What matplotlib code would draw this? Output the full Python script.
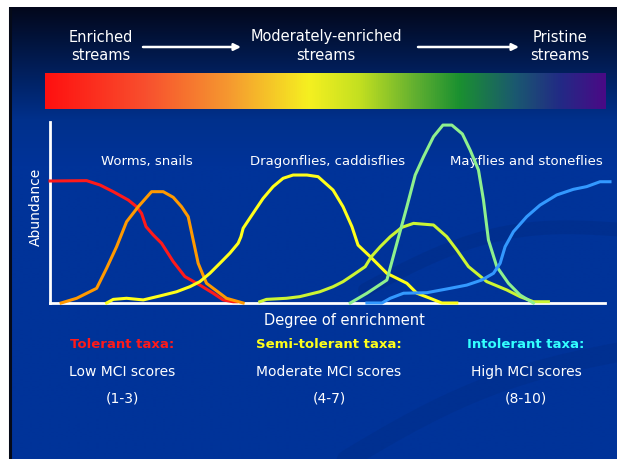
import numpy as np
import matplotlib
matplotlib.use("Agg")
import matplotlib.pyplot as plt
from matplotlib.colors import LinearSegmentedColormap

plt.rcParams['font.family'] = ['DejaVu Sans']

# ---- data: degree of enrichment (0-100) vs abundance (0-100) ----
red_x = [0, 6.6, 9.0, 11.4, 14.1, 15.6, 16.5, 17.3, 18.6, 20.1, 22.2, 24.3, 27.0, 29.4, 31.2, 33.0, 33.6]
red_y = [67.4, 67.6, 65.2, 61.5, 56.9, 53.2, 49.5, 42.2, 37.6, 33.0, 22.9, 14.6, 9.9, 5.4, 1.7, 0.7, 0.7]

orange_x = [2.0, 4.8, 8.4, 10.2, 12.0, 13.8, 15.9, 18.3, 20.4, 22.2, 23.7, 24.9, 25.8, 26.7, 28.2, 31.8, 34.8]
orange_y = [0, 2.6, 8.1, 19.2, 31.1, 44.9, 53.2, 61.5, 61.5, 58.4, 53.2, 47.7, 34.8, 21.9, 10.9, 2.6, 0]

yellow_x = [10.2, 11.4, 13.8, 16.8, 19.8, 22.8, 25.2, 27.0, 28.8, 30.6, 32.4, 33.9, 34.4, 34.8,
            36.6, 38.4, 40.2, 42.0, 43.8, 46.3, 48.3, 51.0, 52.8, 54.4, 55.5, 57.7, 60.7, 64.3,
            66.1, 68.5, 70.6, 73.3]
yellow_y = [0, 2.0, 2.6, 1.7, 3.9, 6.2, 9.0, 11.8, 16.4, 21.9, 27.5, 33.0, 36.6, 41.3,
            49.6, 57.8, 64.3, 68.9, 70.7, 70.7, 69.8, 62.4, 53.2, 42.2, 32.0, 25.6, 16.4, 10.9,
            5.4, 2.6, 0, 0]

lime_x = [37.8, 39.0, 42.6, 45.0, 48.6, 51.0, 52.8, 54.6, 56.8, 57.9, 59.5, 61.3, 63.4, 65.5,
          69.1, 71.5, 73.3, 75.4, 78.7, 82.3, 84.7, 87.1, 89.8]
lime_y = [0.7, 2.0, 2.6, 3.5, 6.2, 9.0, 11.8, 15.5, 20.1, 25.6, 31.1, 36.6, 41.8, 44.0,
          43.1, 36.6, 29.3, 20.1, 11.8, 7.2, 3.5, 0.7, 0.7]

green_x = [54.1, 57.1, 60.7, 62.5, 64.3, 65.8, 67.3, 69.1, 70.8, 72.4, 74.3, 75.7, 77.2, 78.1,
           79.0, 80.5, 82.6, 84.7, 87.1]
green_y = [0, 5.4, 12.7, 33.0, 53.2, 70.7, 80.8, 91.9, 98.3, 98.3, 93.4, 84.5, 73.5, 56.9,
           34.8, 20.1, 10.9, 4.4, 0]

blue_x = [57.1, 59.8, 61.3, 63.7, 67.9, 72.1, 75.1, 77.8, 79.9, 81.1, 82.0, 83.5, 85.9, 88.3,
          91.3, 94.3, 96.7, 99.1, 100.9]
blue_y = [0, 0, 2.6, 5.4, 5.7, 8.1, 9.9, 12.7, 16.4, 21.9, 31.1, 39.4, 47.7, 54.1,
          59.7, 62.8, 64.3, 67.0, 67.0]

series = [
    (red_x, red_y, "#ff1a1a"),
    (orange_x, orange_y, "#ff9900"),
    (yellow_x, yellow_y, "#ffff1a"),
    (lime_x, lime_y, "#ccf533"),
    (green_x, green_y, "#8ef08e"),
    (blue_x, blue_y, "#3399ff"),
]

group_labels = ["Worms, snails", "Dragonflies, caddisflies", "Mayflies and stoneflies"]
stream_labels = ["Enriched\nstreams", "Moderately-enriched\nstreams", "Pristine\nstreams"]
taxa_labels = ["Tolerant taxa:", "Semi-tolerant taxa:", "Intolerant taxa:"]
taxa_colors = ["#ff1a1a", "#ffff1a", "#33ffff"]
score_labels = ["Low MCI scores", "Moderate MCI scores", "High MCI scores"]
score_ranges = ["(1-3)", "(4-7)", "(8-10)"]

# enrichment colour scale stops
scale_pos = [0.0, 0.18, 0.33, 0.47, 0.56, 0.66, 0.74, 0.84, 0.92, 1.0]
scale_col = ["#ff1010", "#f8502e", "#f59a30", "#f5f020", "#c4e020", "#62b030",
             "#1a9030", "#1a5870", "#222a85", "#4a0a85"]

W, H = 617, 459
fig = plt.figure(figsize=(W / 100, H / 100), dpi=100)
fig.patch.set_facecolor("white")

# ---- slide background (pixel coordinates) ----
bg = fig.add_axes([0, 0, 1, 1])
bg.set_xlim(0, W)
bg.set_ylim(H, 0)
bg.axis("off")

top_col = np.array([0.01, 0.03, 0.11])
mid_col = np.array([0.0, 0.19, 0.55])
low_col = np.array([0.0, 0.2, 0.6])
rows = np.linspace(0, 1, 300)
grad = np.empty((300, 1, 3))
for i, t in enumerate(rows):
    if t < 0.25:
        f = t / 0.25
        grad[i, 0] = top_col * (1 - f) + mid_col * f
    else:
        f = min((t - 0.25) / 0.1, 1.0)
        grad[i, 0] = mid_col * (1 - f) + low_col * f
bg.imshow(grad, extent=[9, W, H, 7], aspect="auto", zorder=0, interpolation="bilinear")
bg.plot([10, 10], [7, H], color="#050a18", lw=2.2, zorder=1, solid_capstyle="butt")

# faint swoosh shapes in the backdrop
tt = np.linspace(0, 1, 200)
sw1_x = 365 + 260 * tt
sw1_y = 290 - 60 * tt - 25 * np.sin(np.pi * tt)
bg.plot(sw1_x, sw1_y, color="#00287a", lw=10, alpha=0.3, zorder=1, solid_capstyle="round")
sw2_x = 330 + 300 * tt
sw2_y = 470 - 120 * tt - 20 * np.sin(np.pi * tt)
bg.plot(sw2_x, sw2_y, color="#00287a", lw=14, alpha=0.25, zorder=1, solid_capstyle="round")

# enrichment colour bar
cmap = LinearSegmentedColormap.from_list("enrich", list(zip(scale_pos, scale_col)))
bg.imshow(np.linspace(0, 1, 512)[None, :], cmap=cmap, extent=[45, 606, 109, 73],
          aspect="auto", zorder=2)

# stream type headings with arrows
stream_x = [101, 326, 560]
for sx, lab in zip(stream_x, stream_labels):
    bg.text(sx, 46, lab, color="white", fontsize=10.5, ha="center", va="center",
            linespacing=1.25, zorder=3)
for x0, x1 in [(143, 241), (418, 519)]:
    bg.annotate("", xy=(x1, 47), xytext=(x0, 47),
                arrowprops=dict(arrowstyle="-|>", color="white", lw=1.8,
                                mutation_scale=10, shrinkA=0, shrinkB=0), zorder=3)

# ---- abundance chart ----
ax = fig.add_axes([50 / W, (H - 303) / H, 555 / W, 181 / H])
ax.set_xlim(0, 100)
ax.set_ylim(0, 100)
ax.patch.set_alpha(0)
for side in ["top", "right"]:
    ax.spines[side].set_visible(False)
for side in ["left", "bottom"]:
    ax.spines[side].set_color("white")
    ax.spines[side].set_linewidth(2.0)
ax.set_xticks([])
ax.set_yticks([])

for xs, ys, c in series:
    ax.plot(xs, ys, color=c, lw=2.2, clip_on=False, solid_joinstyle="round", zorder=3)

group_x = [147, 328, 526]
for gx, lab in zip(group_x, group_labels):
    bg.text(gx, 161, lab, color="white", fontsize=9.5, ha="center", va="center", zorder=4)

bg.text(36, 207, "Abundance", color="white", fontsize=10, rotation=90,
        ha="center", va="center", zorder=4)
bg.text(344, 321, "Degree of enrichment", color="white", fontsize=10.5,
        ha="center", va="center", zorder=4)

col_x = [122, 329, 526]
for cx, tl, tc, sl, sr in zip(col_x, taxa_labels, taxa_colors, score_labels, score_ranges):
    bg.text(cx, 345, tl, color=tc, fontsize=9.5, fontweight="bold",
            ha="center", va="center", zorder=4)
    bg.text(cx, 372, sl, color="white", fontsize=10, ha="center", va="center", zorder=4)
    bg.text(cx, 398, sr, color="white", fontsize=10, ha="center", va="center", zorder=4)

fig.savefig("out.png", dpi=100, facecolor=fig.get_facecolor())
